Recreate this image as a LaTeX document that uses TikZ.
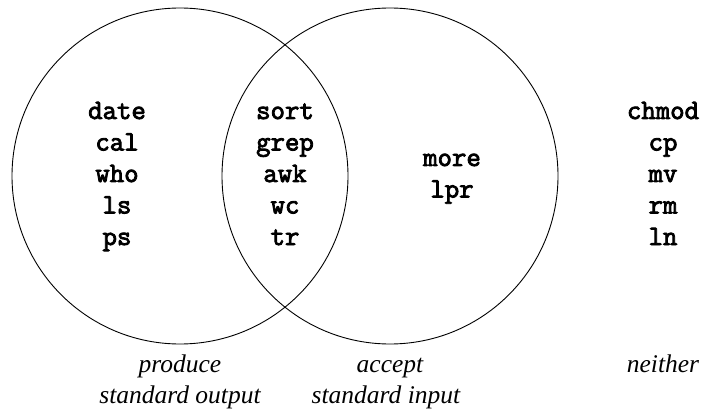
\documentclass[tikz,border=0pt]{standalone}
\usepackage{fontspec}
\setmainfont{Liberation Serif}
% heavy slab-serif typewriter face for the command names
\newfontfamily\cmdfont{Latin Modern Mono}[FakeBold=3]
\begin{document}
\begin{tikzpicture}[x=1pt,y=-1pt,
  cmd/.style={inner sep=0pt,anchor=base,font=\fontsize{28}{31}\selectfont\cmdfont},
  caption/.style={inner sep=0pt,anchor=base,font=\fontsize{25.5}{31}\selectfont\itshape},
  set/.style={line width=0.9pt}]
\useasboundingbox (0,0) rectangle (702,409);

% the two sets
\draw[set] (180,176) circle (168);
\draw[set] (390,176) circle (168);

% commands that only produce standard output
\node[cmd] (date) at (117,119) {date};
\node[cmd] (cal)  at (117,150.5) {cal};
\node[cmd] (who)  at (117,182) {who};
\node[cmd] (ls)   at (117,213.5) {ls};
\node[cmd] (ps)   at (117,245) {ps};

% commands in both sets
\node[cmd] (sort) at (285,119) {sort};
\node[cmd] (grep) at (285,150.5) {grep};
\node[cmd] (awk)  at (285,182) {awk};
\node[cmd] (wc)   at (285,213.5) {wc};
\node[cmd] (tr)   at (285,245) {tr};

% commands that only accept standard input
\node[cmd] (more) at (452,166) {more};
\node[cmd] (lpr)  at (452,197.5) {lpr};

% commands in neither set
\node[cmd] (chmod) at (663,119) {chmod};
\node[cmd] (cp)    at (663,150.5) {cp};
\node[cmd] (mv)    at (663,182) {mv};
\node[cmd] (rm)    at (663,213.5) {rm};
\node[cmd] (ln)    at (663,245) {ln};

% set captions
\node[caption] (produce) at (180,372) {produce};
\node[caption] (stdout)  at (180,403) {standard output};
\node[caption] (accept)  at (390,372) {accept};
\node[caption] (stdin)   at (386,403) {standard input};
\node[caption] (neither) at (663,372) {neither};
\end{tikzpicture}
\end{document}
